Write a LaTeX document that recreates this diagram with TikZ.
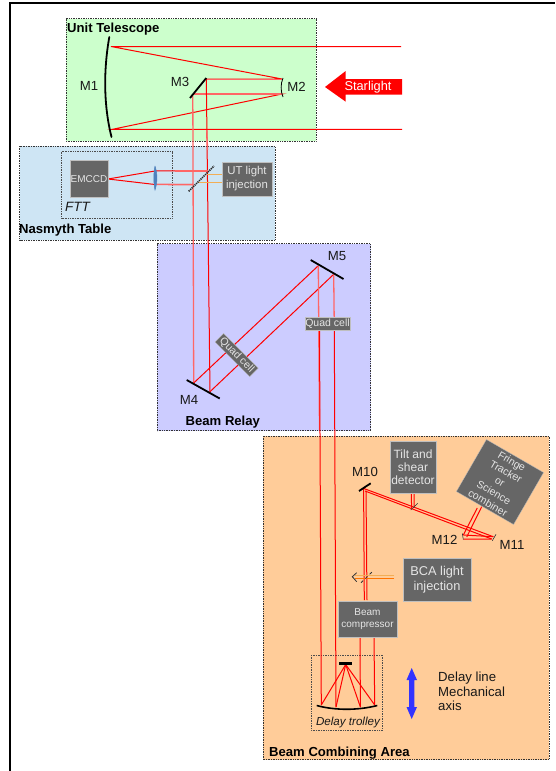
\documentclass[tikz,border=0pt]{standalone}
\usepackage{fontspec}
\setmainfont{Liberation Sans}
\usetikzlibrary{arrows.meta}
\definecolor{gbox}{HTML}{666666}
\definecolor{utg}{HTML}{CCFFCC}
\definecolor{nasb}{HTML}{CEE5F4}
\definecolor{relb}{HTML}{CCCCFF}
\definecolor{bcao}{HTML}{FFCC99}
\definecolor{inj}{HTML}{F2AE55}
\definecolor{lensb}{HTML}{4F81BD}
\tikzset{
  area/.style={draw=black!80,densely dotted,line width=0.7pt},
  ray/.style={draw=red,line width=1pt},
  rayp/.style={draw=red!60,line width=1.3pt},
  injray/.style={draw=inj,line width=1pt},
  mirror/.style={draw=black,line width=1.8pt},
  minim/.style={draw=black!80,line width=0.6pt},
  greybox/.style={fill=gbox,draw=black!25,line width=0.3pt,text=white!90!black,align=center,inner sep=0pt},
  lab/.style={text=black!90,inner sep=0pt,font=\fontsize{13.2}{15}\selectfont},
  title/.style={text=black,inner sep=0pt,font=\fontsize{13.1}{15}\selectfont\bfseries,anchor=west},
  split/.style={draw=black!85,line width=1.5pt,dash pattern=on 1.2pt off 0.9pt}
}
\begin{document}
\begin{tikzpicture}[x=1pt,y=-1pt]
\useasboundingbox (0,0) rectangle (555,771);
\fill[white] (0,0) rectangle (555,771);
\draw[line width=2pt,black] (10,771) -- (10,3) -- (555,3);
% areas
\draw[area,fill=utg] (66,18.5) rectangle (316,141);
\draw[area,fill=nasb] (19.5,146) rectangle (275,240);
\draw[area,fill=relb] (157,243.5) rectangle (370.5,430.5);
\draw[area,fill=bcao] (263,436) rectangle (549,759.5);
\draw[area,draw=black!70] (61.5,151.5) rectangle (172,218);
\draw[area,draw=black!70] (311,655) rectangle (382.5,730);
% rays telescope
\draw[ray] (401,46.5) -- (111,46.5) -- (282,79) -- (206,79);
\draw[ray] (402,129.4) -- (112,129.4) -- (282,94) -- (193,94);
\draw[rayp] (282,79.5) -- (206,79.5);
\draw[rayp] (282,94) -- (193,94);
\draw[ray] (206.3,79) -- (210,392);
\draw[rayp] (192.8,94) -- (193.7,383);
\draw[rayp] (206.8,130) -- (207.6,150);
% relay
\draw[ray] (193.7,383) -- (318.3,265.7);
\draw[ray] (210,391.7) -- (333.7,274.3);
\draw[rayp] (318.3,265.7) -- (319.5,430);
\draw[ray] (319.5,330) -- (321.3,705);
\draw[rayp] (333.7,274.3) -- (334.3,330);
\draw[ray] (334.3,330) -- (336,707);
% FTT
\draw[ray] (108,179) -- (155,171) -- (208,170.7);
\draw[ray] (108,179) -- (155,184.5) -- (193,184.3);
\draw[rayp] (156,184.5) -- (193,184.8);
\draw[rayp] (175,170.9) -- (208,170.9);
\draw[injray] (206.7,174.5) -- (222,174.5);
\draw[injray] (198,182.5) -- (222,182.5);
\draw[split] (188.7,191.3) -- (214,166);
\draw[draw=lensb,fill=lensb,line width=0.5pt] (155,166) .. controls (153.4,174) and (153.4,182) .. (155,190) .. controls (157.6,182) and (157.6,174) .. (155,166);
% mirrors telescope
\draw[mirror,line cap=round] (109.3,37) .. controls (103.5,70) and (103.5,105) .. (111.5,137);
\draw[black,line width=0.8pt] (283,78) .. controls (280.5,84) and (280.5,91) .. (283,97);
\draw[mirror] (190,98) -- (206.3,78);
\draw[mirror] (186.7,380) -- (219.7,398.5);
\draw[mirror] (310.7,260) -- (343.5,279);
% BCA beam
\draw[ray] (374,637) -- (374.7,705);
\draw[ray] (360,637) -- (360.4,707);
\draw[ray] (364.3,600) -- (363.6,488.5);
\draw[ray] (367,600) -- (366,490.5);
\draw[ray] (363.3,488.3) -- (493.3,536.7);
\draw[ray] (365,491) -- (491.7,539);
\draw[ray] (493.3,536.7) -- (463.3,535);
\draw[ray] (491.7,539.2) -- (463.3,539);
\draw[ray] (463.3,535) -- (477.3,508);
\draw[ray] (466.7,537) -- (481.7,506.7);
\draw[ray] (411.3,493) -- (411.6,508);
\draw[ray] (414,493) -- (414.2,506);
\draw[minim] (410.7,510) -- (417.7,503.3);
\draw[minim] (496,534.3) -- (492.3,540.7);
\draw[minim] (462.3,533.3) -- (463.3,539.5);
\draw[mirror] (359,491) -- (370.7,483.3);
% BCA injection
\draw[injray,draw=inj] (394,575) -- (355,575);
\draw[injray,draw=orange!90!red] (394,578.3) -- (355,578.3);
\draw[minim,line width=0.8pt] (356.7,572.7) -- (352.3,576.7) -- (356.7,581.7);
\draw[minim,dashed,line width=0.8pt] (361,582.7) -- (373.3,570.7);
% delay trolley
\draw[ray] (345.7,664.5) -- (321.3,705);
\draw[ray] (345.7,664.5) -- (336,707);
\draw[ray] (345.7,664.5) -- (360.4,707);
\draw[ray] (345.7,664.5) -- (374.7,705);
\draw[black,line width=3pt] (339,663.3) -- (352,663.3);
\draw[black,line width=1.6pt] (316.7,705.5) .. controls (335,710.5) and (358,710.5) .. (377.3,705.5);
% arrows
\fill[red] (325,87) -- (345.7,71) -- (345.7,79) -- (402,79) -- (402,94.5) -- (345.7,94.5) -- (345.7,101.7) -- cycle;
\node[text=white,inner sep=0pt,font=\fontsize{12.8}{14}\selectfont] (star) at (368,87) {Starlight};
\fill[blue!80!white] (411.7,668) -- (417,680) -- (414.3,680) -- (414.3,707) -- (417,707) -- (411.7,719) -- (406.5,707) -- (409.1,707) -- (409.1,680) -- (406.5,680) -- cycle;
% grey boxes
\node[greybox,minimum width=38pt,minimum height=37pt,font=\fontsize{10}{11}\selectfont] (emccd) at (89,179) {EMCCD};
\node[greybox,minimum width=50pt,minimum height=34pt,font=\fontsize{11.4}{14}\selectfont] (utinj) at (247,179) {UT light\\injection};
\node[greybox,minimum width=49pt,minimum height=12pt,rotate=-45,font=\fontsize{10.5}{11}\selectfont] (qc1) at (236.7,355) {Quad cell};
\node[greybox,minimum width=45pt,minimum height=13pt,font=\fontsize{10.5}{11}\selectfont] (qc2) at (327.5,323.5) {Quad cell};
\node[greybox,minimum width=46pt,minimum height=51.5pt,font=\fontsize{12}{13}\selectfont] (tilt) at (413,467) {Tilt and\\shear\\detector};
\node[greybox,minimum width=66pt,minimum height=60pt,rotate=-30,font=\fontsize{10.5}{12}\selectfont] (fringe) at (500,482) {Fringe\\Tracker\\or\\Science\\combiner};
\node[greybox,minimum width=68pt,minimum height=43.5pt,font=\fontsize{12.8}{15.5}\selectfont] (bcainj) at (437,579.5) {BCA light\\injection};
\node[greybox,minimum width=59pt,minimum height=35.5pt,font=\fontsize{10}{12}\selectfont] (bcomp) at (367.5,619) {Beam\\compressor};
% titles
\node[title] (t1) at (67,29.5) {Unit Telescope};
\node[title] (t2) at (19,230) {Nasmyth Table};
\node[title] (t3) at (185.5,422) {Beam Relay};
\node[title] (t4) at (269,753) {Beam Combining Area};
% labels
\node[lab] (m1) at (89,85.5) {M1};
\node[lab] (m2) at (296.5,86.5) {M2};
\node[lab] (m3) at (180,81.5) {M3};
\node[lab] (m4) at (189,399.5) {M4};
\node[lab] (m5) at (337,256.5) {M5};
\node[lab] (m10) at (365,471.5) {M10};
\node[lab] (m11) at (512,545) {M11};
\node[lab] (m12) at (444.5,540) {M12};
\node[lab,font=\fontsize{13.5}{15}\selectfont\itshape] (ftt) at (77.5,207) {FTT};
\node[lab,font=\fontsize{11.6}{13}\selectfont\itshape] (dt) at (348,722) {Delay trolley};
\node[lab,anchor=north west,align=left,font=\fontsize{13.2}{14.8}\selectfont] (dl) at (438,671.5) {Delay line\\Mechanical\\axis};
\end{tikzpicture}
\end{document}
